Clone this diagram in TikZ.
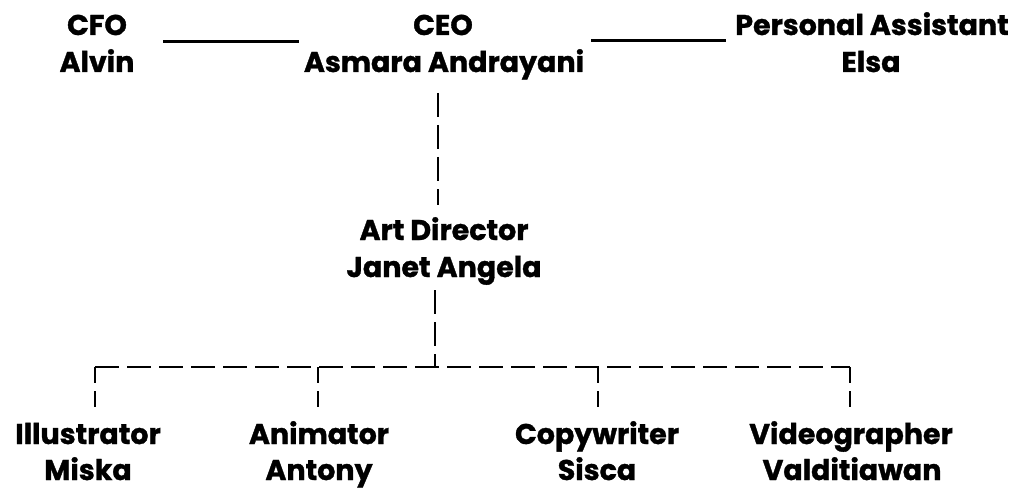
\documentclass[tikz,border=0pt]{standalone}
\usepackage{fontspec}
\setmainfont{Poppins}[UprightFont=* Bold,FakeBold=1.2]
\begin{document}
\begin{tikzpicture}[x=1pt,y=-1pt,
  lbl/.style={anchor=base,inner sep=0pt,font=\fontsize{28.5}{37}\selectfont},
  solidline/.style={line width=3pt},
  dashline/.style={line width=2.6pt,dash pattern=on 24pt off 8pt},
  dropline/.style={dashline,dash pattern=on 16pt off 8pt}]
\useasboundingbox (0,0) rectangle (1016,489);
% top row
\node[lbl] (cfo1) at (97,35) {CFO};
\node[lbl] (cfo2) at (97,72) {Alvin};
\node[lbl] (ceo1) at (443,35) {CEO};
\node[lbl] (ceo2) at (444,72) {Asmara Andrayani};
\node[lbl] (pa1) at (872,35) {Personal Assistant};
\node[lbl] (pa2) at (871,72) {Elsa};
% art director
\node[lbl] (ad1) at (444,240) {Art Director};
\node[lbl] (ad2) at (444,277) {Janet Angela};
% bottom row
\node[lbl] (il1) at (88,444) {Illustrator};
\node[lbl] (il2) at (88,480) {Miska};
\node[lbl] (an1) at (319,444) {Animator};
\node[lbl] (an2) at (319,480) {Antony};
\node[lbl] (cw1) at (597,444) {Copywriter};
\node[lbl] (cw2) at (597,480) {Sisca};
\node[lbl] (vg1) at (851,444) {Videographer};
\node[lbl] (vg2) at (852,480) {Valditiawan};
% solid links
\coordinate (s1a) at (163,42); \coordinate (s1b) at (299,42);
\coordinate (s2a) at (591,41); \coordinate (s2b) at (726,41);
\draw[solidline] (s1a) -- (s1b);
\draw[solidline] (s2a) -- (s2b);
% CEO to art director
\coordinate (v1a) at (438,93); \coordinate (v1b) at (438,205);
\draw[dashline] (v1a) -- (v1b);
% art director to bus
\coordinate (v2a) at (435,290); \coordinate (bus) at (435,367);
\draw[dashline] (v2a) -- (bus);
\coordinate (busL) at (95,367); \coordinate (busR) at (850,367);
\draw[dashline] (busL) -- (busR);
\coordinate (b2) at (318,367); \coordinate (b3) at (598,367);
\coordinate (d1) at (95,412); \coordinate (d2) at (318,412);
\coordinate (d3) at (598,412); \coordinate (d4) at (850,412);
\draw[dropline] (busL) -- (d1);
\draw[dropline] (b2) -- (d2);
\draw[dropline] (b3) -- (d3);
\draw[dropline] (busR) -- (d4);
\end{tikzpicture}
\end{document}
